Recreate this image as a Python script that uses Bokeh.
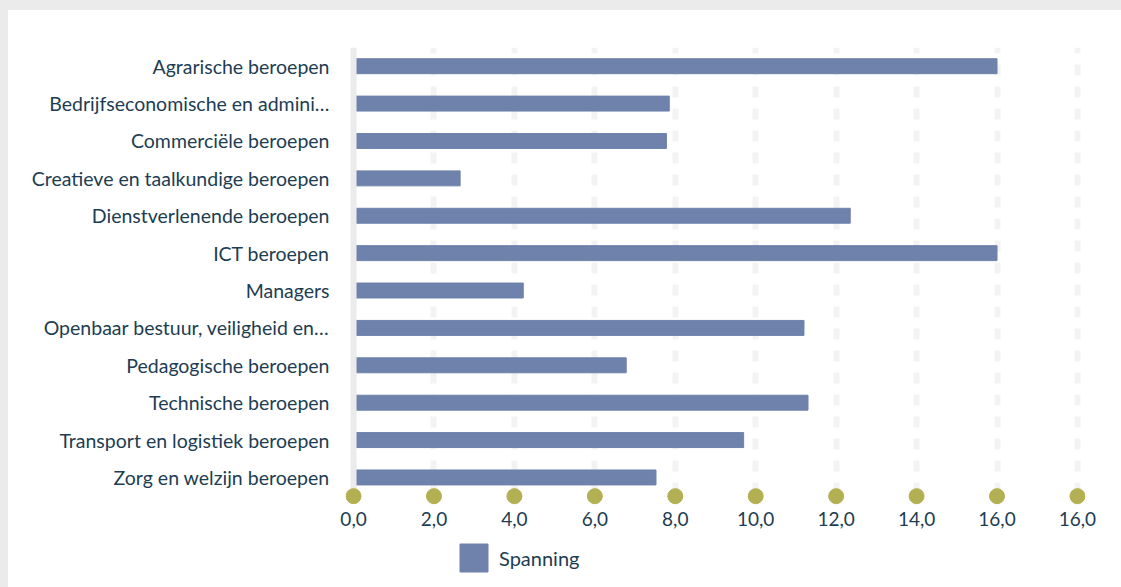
from bokeh.plotting import figure
from bokeh.models import (Range1d, FixedTicker, ColumnDataSource, Legend, LegendItem)
from bokeh.layouts import column
from bokeh.embed import file_html
from bokeh.resources import INLINE

categories = [
    "Agrarische beroepen",
    "Bedrijfseconomische en admini…",
    "Commerciële beroepen",
    "Creatieve en taalkundige beroepen",
    "Dienstverlenende beroepen",
    "ICT beroepen",
    "Managers",
    "Openbaar bestuur, veiligheid en…",
    "Pedagogische beroepen",
    "Technische beroepen",
    "Transport en logistiek beroepen",
    "Zorg en welzijn beroepen",
]
series_name = "Spanning"
spanning = [16.0, 7.85, 7.78, 2.65, 12.35, 16.0, 4.22, 11.2, 6.78, 11.3, 9.7, 7.52]
x_ticks = [0, 2, 4, 6, 8, 10, 12, 14, 16, 18]
x_tick_labels = ["0,0", "2,0", "4,0", "6,0", "8,0", "10,0", "12,0", "14,0", "16,0", "16,0"]

TEXT = "#1d3d52"
BAR = "#6e82ab"
DOT = "#b3b053"
FONT = "Lato"

n = len(categories)
idx = list(range(n))
src = ColumnDataSource(dict(y=idx, v=spanning, cat=categories))

p = figure(width=1113, height=530, output_backend="svg", toolbar_location=None,
           x_range=Range1d(-0.2, 18.2), y_range=Range1d(n - 0.5 + 0.25, -0.5),
           min_border_left=337, min_border_right=36, min_border_top=37, min_border_bottom=35)
p.outline_line_color = None
p.background_fill_color = "white"
p.border_fill_color = "white"

# grid
p.ygrid.grid_line_color = None
p.xgrid.ticker = FixedTicker(ticks=x_ticks[1:])
p.xgrid.grid_line_color = "#f3f3f3"
p.xgrid.grid_line_width = 6
p.xgrid.grid_line_dash = "11 11"
p.xgrid.grid_line_dash_offset = 5

# bars
r = p.hbar(y="y", right="v", left=0, height=0.4, color=BAR, source=src)

# axis line at zero
p.segment(x0=[0], y0=[-0.5], x1=[0], y1=[n - 0.5], line_color="#ebebeb", line_width=6)

# tick dots
p.scatter(x=x_ticks, y=[n - 0.5] * len(x_ticks), size=15, color=DOT)

# axes
xa = p.xaxis[0]
xa.ticker = FixedTicker(ticks=x_ticks)
xa.major_label_overrides = {t: l for t, l in zip(x_ticks, x_tick_labels)}
xa.axis_line_color = None
xa.major_tick_line_color = None
xa.minor_tick_line_color = None
xa.major_label_text_font = FONT
xa.major_label_text_font_size = "19px"
xa.major_label_text_color = TEXT
xa.major_label_standoff = 0

ya = p.yaxis[0]
ya.ticker = FixedTicker(ticks=idx)
ya.major_label_overrides = {i: c for i, c in zip(idx, categories)}
ya.axis_line_color = None
ya.major_tick_line_color = None
ya.minor_tick_line_color = None
ya.major_label_text_font = FONT
ya.major_label_text_font_size = "19.5px"
ya.major_label_text_color = TEXT
ya.major_label_standoff = 10

# legend strip (same frame geometry as the chart)
p2 = figure(width=1113, height=47, output_backend="svg", toolbar_location=None,
            x_axis_type=None, y_axis_type=None,
            x_range=Range1d(-0.2, 18.2), y_range=Range1d(100, 101),
            min_border_left=337, min_border_right=36, min_border_top=0, min_border_bottom=0)
p2.outline_line_color = None
p2.grid.grid_line_color = None
p2.background_fill_color = "white"
p2.border_fill_color = "white"
lr = p2.hbar(y="y", right="v", left=0, height=0.4, color=BAR, source=src)

legend = Legend(items=[LegendItem(label=series_name, renderers=[lr])],
                location=(111, 12), orientation="horizontal",
                glyph_width=35, glyph_height=35, label_text_font=FONT,
                label_text_font_size="20px", label_text_color=TEXT,
                border_line_color=None, background_fill_alpha=0,
                padding=0, margin=0, label_standoff=8)
p2.add_layout(legend, "center")

inner = column(p, p2, spacing=0, styles={"background-color": "white"})
layout = column(inner, styles={"background-color": "#ebebeb", "padding": "10px 0 0 8px"})

open("out.html", "w").write(file_html(layout, INLINE))
